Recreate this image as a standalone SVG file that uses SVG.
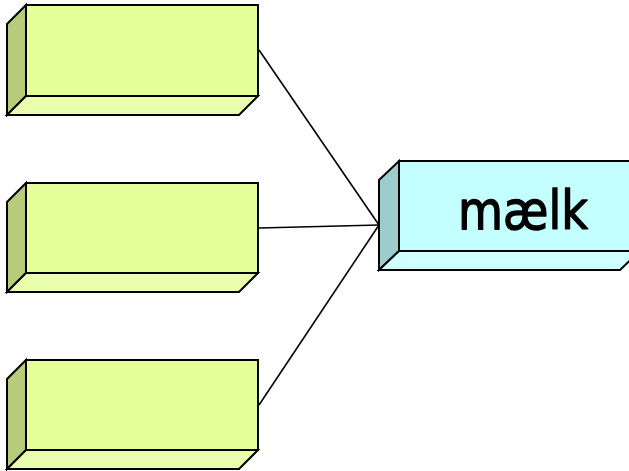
<svg xmlns="http://www.w3.org/2000/svg" width="629" height="471" viewBox="0 0 629 471">
<style>
.e{stroke:#000;stroke-width:2;stroke-linejoin:miter}
.gf{fill:#E5FF99}.gs{fill:#B7CC7A}.gb{fill:#EAFFAD}
.cf{fill:#C4FFFF}.cs{fill:#9DCCCC}.cb{fill:#D0FFFF}
.ln{stroke:#000;stroke-width:1.6;fill:none}
</style>
<rect width="629" height="471" fill="#fff"/>
<g id="connectors">
<line class="ln" x1="259" y1="50" x2="379" y2="225"/>
<line class="ln" x1="259" y1="228" x2="379" y2="225"/>
<line class="ln" x1="259" y1="405" x2="379" y2="225"/>
</g>
<g id="box1">
<polygon class="e gs" points="7,24 26,5 26,96 7,115"/>
<polygon class="e gb" points="26,96 258,96 239,115 7,115"/>
<rect class="e gf" x="26" y="5" width="232" height="91"/>
</g>
<g id="box2">
<polygon class="e gs" points="7,202 26,183 26,273 7,292"/>
<polygon class="e gb" points="26,273 258,273 239,292 7,292"/>
<rect class="e gf" x="26" y="183" width="232" height="90"/>
</g>
<g id="box3">
<polygon class="e gs" points="7,379 26,360 26,450 7,469"/>
<polygon class="e gb" points="26,450 258,450 239,469 7,469"/>
<rect class="e gf" x="26" y="360" width="232" height="90"/>
</g>
<g id="maelk">
<polygon class="e cs" points="379,180 399,161 399,251 379,270"/>
<polygon class="e cb" points="399,251 640,251 620,270 379,270"/>
<rect class="e cf" x="399" y="161" width="240" height="90"/>
<text x="458" y="229" font-family="DejaVu Sans, sans-serif" font-size="54" textLength="130" lengthAdjust="spacingAndGlyphs" fill="#000" stroke="#000" stroke-width="1.4" stroke-linejoin="round">mælk</text>
</g>
</svg>
